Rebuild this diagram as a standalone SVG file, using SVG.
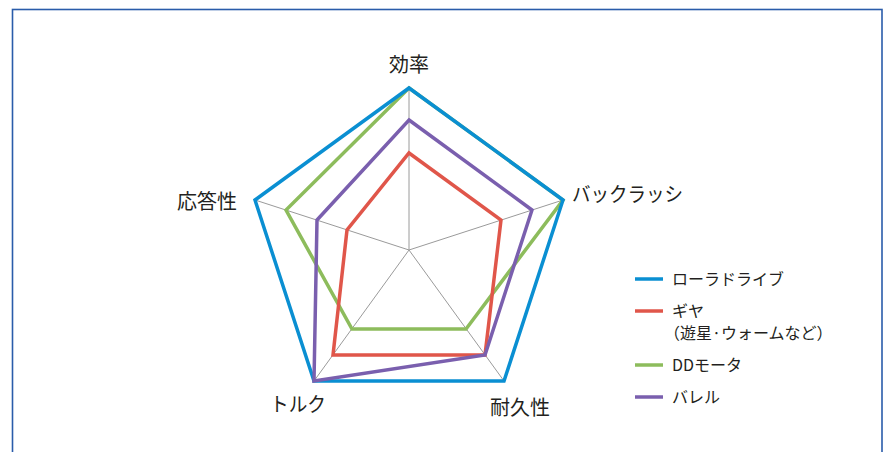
<svg xmlns="http://www.w3.org/2000/svg" width="887" height="452" viewBox="0 0 887 452">
<style>
text{font-family:"Noto Sans CJK JP","Noto Sans",sans-serif;fill:#231f20}
.ax{font-size:20px}
.lg{font-size:16px}
.grid{fill:none;stroke:#9a9a9a;stroke-width:1}
.s{fill:none;stroke-width:3.5;stroke-linejoin:miter}
.b{stroke:#0a8fd2}.r{stroke:#e0564a}.g{stroke:#8dbc5c}.p{stroke:#7a5fae}
</style>
<rect x="12.5" y="9.5" width="869.5" height="460" fill="#fff" stroke="#2a5caa" stroke-width="1.6"/>
<g id="grid">
<polygon class="grid" points="409,88 563,200 504,381 314,381 255,200"/>
<line class="grid" x1="409" y1="250" x2="409" y2="88"/>
<line class="grid" x1="409" y1="250" x2="563" y2="200"/>
<line class="grid" x1="409" y1="250" x2="504" y2="381"/>
<line class="grid" x1="409" y1="250" x2="314" y2="381"/>
<line class="grid" x1="409" y1="250" x2="255" y2="200"/>
</g>
<g id="series">
<polygon id="dd" class="s g" points="409,88 563,200 466,329 352,329 286,210"/>
<polygon id="roller" class="s b" points="409,88 563,200 504,381 314,381 255,200"/>
<polygon id="gear" class="s r" points="409,153 501,220 485,355 333,355 347,230"/>
<polygon id="barrel" class="s p" points="409,120 532,210 485,355 314,381 317,220"/>
</g>
<g id="labels">
<text class="ax" x="409" y="72" text-anchor="middle">効率</text>
<text class="ax" x="572" y="202" textLength="111" lengthAdjust="spacingAndGlyphs">バックラッシ</text>
<text class="ax" x="490" y="415">耐久性</text>
<text class="ax" x="270" y="412" textLength="56" lengthAdjust="spacingAndGlyphs">トルク</text>
<text class="ax" x="237" y="209" text-anchor="end">応答性</text>
</g>
<g id="legend">
<line class="s b" x1="635" y1="279" x2="663" y2="279"/>
<line class="s r" x1="635" y1="311" x2="663" y2="311"/>
<line class="s g" x1="635" y1="365" x2="663" y2="365"/>
<line class="s p" x1="635" y1="397" x2="663" y2="397"/>
<text class="lg" x="672" y="285">ローラドライブ</text>
<text class="lg" x="672" y="317">ギヤ</text>
<text class="lg" x="664" y="339">（遊星·ウォームなど）</text>
<text class="lg" x="672" y="371">DDモータ</text>
<text class="lg" x="672" y="403">バレル</text>
</g>
</svg>
